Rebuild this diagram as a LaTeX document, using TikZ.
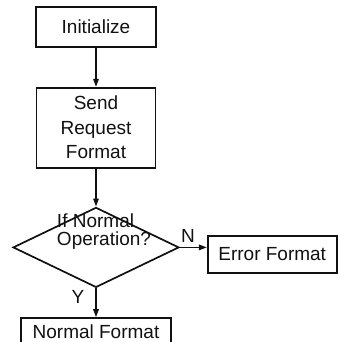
\documentclass[tikz,border=0pt]{standalone}
\usepackage{fontspec}
\setmainfont{Liberation Sans}
\usetikzlibrary{arrows.meta,positioning,shapes.geometric}
\definecolor{ink}{HTML}{111111}
\tikzset{
  procbox/.style  = {draw=ink, line width=1.7pt, text=ink,
                     inner sep=2pt, font=\fontsize{19}{24.5}\selectfont},
  decision/.style = {diamond, draw=ink, line width=1.7pt, inner sep=0pt,
                     minimum width=166pt, minimum height=80pt},
  flow/.style     = {-{Triangle[length=8pt,width=5.5pt]}, draw=ink, line width=1.5pt},
  tag/.style      = {text=ink, inner sep=1pt, font=\fontsize{19}{19}\selectfont},
}

\begin{document}
\begin{tikzpicture}[x=1pt,y=1pt]
    \useasboundingbox (0,0) rectangle (338,342);
    \node[procbox,minimum width=120pt,minimum height=40pt] (init) at (96,315) {Initialize};
    \node[procbox,align=center,below=39pt of init,minimum width=119pt,minimum height=80pt] (send) {Send\\Request\\Format};
    \node[decision,below=38pt of send] (dec) {};
    \node[tag,align=left,font=\fontsize{19}{18}\selectfont] (dectext) at ([xshift=8pt,yshift=16pt]dec.center) {If Normal\\Operation?};
    \node[procbox,right=27pt of dec,yshift=-7pt,minimum width=129pt,minimum height=37pt] (err) {Error Format};
    % box runs on past the lower edge, so its text sits high
    \node[procbox,below=29pt of dec,minimum width=150pt,minimum height=40pt,text height=14pt,text depth=14pt] (norm) {Normal Format};
    \draw[flow] (init) -- (send); \draw[flow] (send) -- (dec);
    \draw[flow] (dec.east) -- (dec.east -| err.west) node[tag,pos=0.3,above=3pt] (nlab) {N};
    \draw[flow] (dec) -- (norm) node[tag,pos=0.3,left=10pt] (ylab) {Y};
  \end{tikzpicture}
\end{document}
